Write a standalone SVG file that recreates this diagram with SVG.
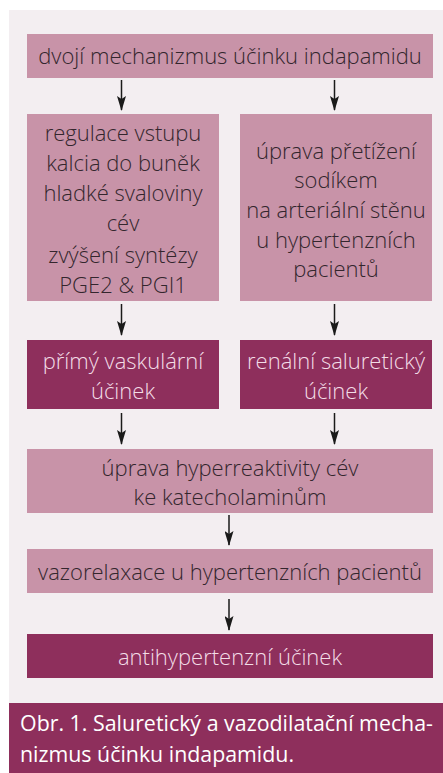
<svg xmlns="http://www.w3.org/2000/svg" width="443" height="773" viewBox="0 0 443 773">
<defs>
<marker id="ah" markerWidth="15" markerHeight="9" refX="14" refY="4.5" orient="auto" markerUnits="userSpaceOnUse" viewBox="0 0 15 9">
<path d="M0,0 L3,4.5 L0,9 L15,4.5 Z" fill="#1a1a1a"/>
</marker>
<style>
.lt{fill:#c893a8}
.dk{fill:#8e2f5c}
.t{font-family:"Open Sans","Noto Sans","Liberation Sans",sans-serif;font-weight:300;font-size:22px;text-anchor:middle}
.td{fill:#33262d}
.tl{fill:#f3dde7}
.cap{font-family:"Open Sans","Noto Sans","Liberation Sans",sans-serif;font-size:22px;fill:#ffffff}
.c{stroke:#1a1a1a;stroke-width:1.5;fill:none;marker-end:url(#ah)}
</style>
</defs>
<rect x="0" y="0" width="443" height="773" fill="#ffffff"/>
<rect x="9" y="10" width="434" height="693" fill="#f3eef1"/>
<g id="n1"><rect class="lt" x="27" y="34" width="406" height="44"/><text class="t td" x="230" y="64">dvojí mechanizmus účinku indapamidu</text></g>
<g id="n2"><rect class="lt" x="27" y="114" width="192" height="187"/>
<text class="t td"><tspan x="123" y="141">regulace vstupu</tspan><tspan x="123" y="171">kalcia do buněk</tspan><tspan x="123" y="201">hladké svaloviny</tspan><tspan x="123" y="231">cév</tspan><tspan x="123" y="263">zvýšení syntézy</tspan><tspan x="123" y="293">PGE2 &amp; PGI1</tspan></text></g>
<g id="n3"><rect class="lt" x="240" y="114" width="192" height="187"/>
<text class="t td"><tspan x="336" y="159">úprava přetížení</tspan><tspan x="336" y="188">sodíkem</tspan><tspan x="336" y="218">na arteriální stěnu</tspan><tspan x="336" y="248">u hypertenzních</tspan><tspan x="336" y="277">pacientů</tspan></text></g>
<g id="n4"><rect class="dk" x="27" y="340" width="192" height="69"/>
<text class="t tl"><tspan x="123" y="369">přímý vaskulární</tspan><tspan x="123" y="399">účinek</tspan></text></g>
<g id="n5"><rect class="dk" x="240" y="340" width="192" height="69"/>
<text class="t tl"><tspan x="336" y="369">renální saluretický</tspan><tspan x="336" y="399">účinek</tspan></text></g>
<g id="n6"><rect class="lt" x="27" y="449" width="406" height="64"/>
<text class="t td"><tspan x="230" y="476">úprava hyperreaktivity cév</tspan><tspan x="230" y="505">ke katecholaminům</tspan></text></g>
<g id="n7"><rect class="lt" x="27" y="549" width="406" height="44"/><text class="t td" x="230" y="580">vazorelaxace u hypertenzních pacientů</text></g>
<g id="n8"><rect class="dk" x="27" y="634" width="406" height="44"/><text class="t tl" x="230" y="665">antihypertenzní účinek</text></g>
<g id="caption"><rect class="dk" x="9" y="703" width="434" height="70"/>
<text class="cap"><tspan x="20" y="731" textLength="413" lengthAdjust="spacingAndGlyphs">Obr. 1. Saluretický a vazodilatační mecha-</tspan><tspan x="20" y="762" textLength="274" lengthAdjust="spacingAndGlyphs">nizmus účinku indapamidu.</tspan></text></g>
<g id="connectors">
<line class="c" x1="121.5" y1="80" x2="121.5" y2="110"/>
<line class="c" x1="334.5" y1="80" x2="334.5" y2="110"/>
<line class="c" x1="121.5" y1="304" x2="121.5" y2="335"/>
<line class="c" x1="334.5" y1="304" x2="334.5" y2="335"/>
<line class="c" x1="121.5" y1="413" x2="121.5" y2="444"/>
<line class="c" x1="334.5" y1="413" x2="334.5" y2="444"/>
<line class="c" x1="229" y1="515" x2="229" y2="545"/>
<line class="c" x1="229" y1="599" x2="229" y2="630"/>
</g>
</svg>
